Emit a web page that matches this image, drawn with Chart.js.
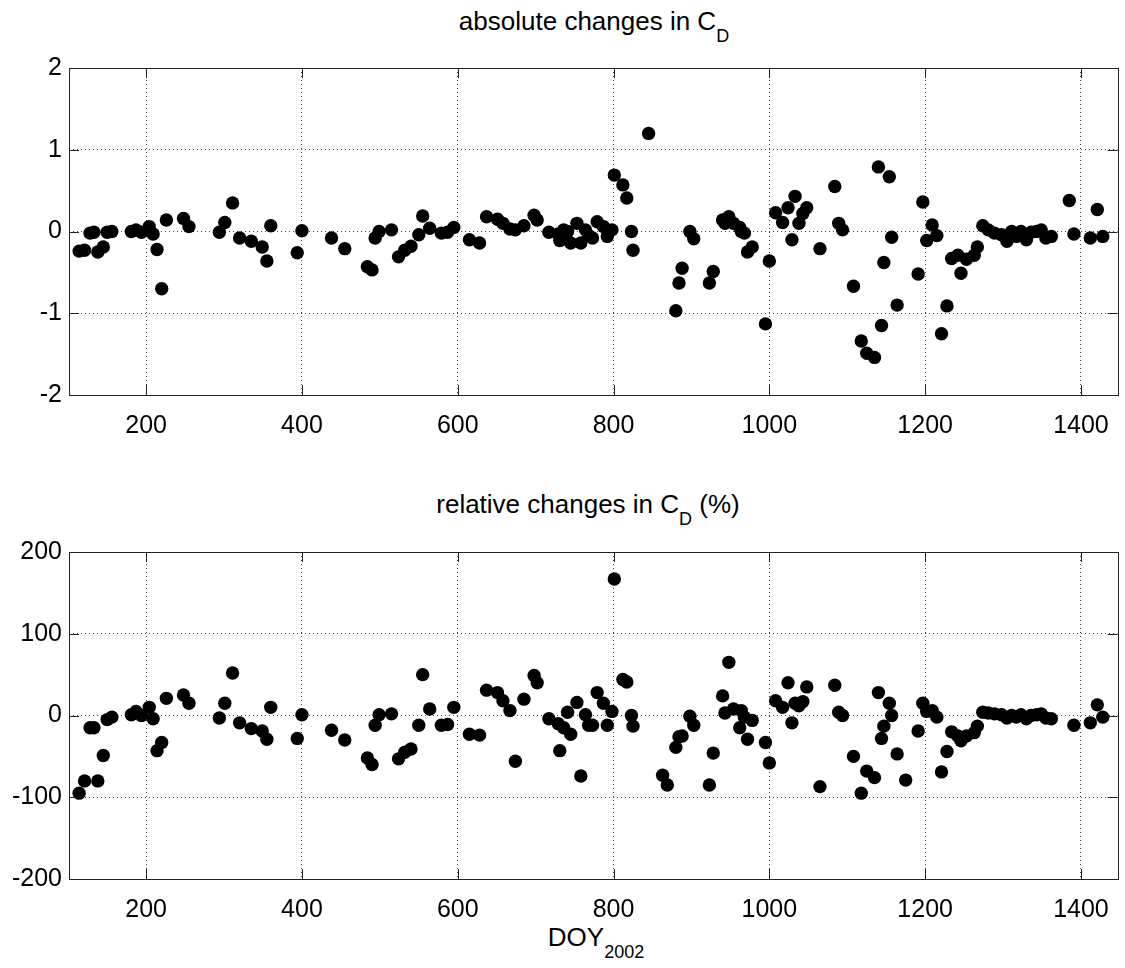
<!DOCTYPE html>
<html>
<head>
<meta charset="utf-8">
<script src="https://cdn.jsdelivr.net/npm/chart.js@4.4.0/dist/chart.umd.min.js"></script>
<style>
body{margin:0;background:#fff;width:1125px;height:968px;position:relative;overflow:hidden;font-family:"Liberation Sans",Arial,sans-serif;}
canvas{position:absolute;left:0;}
.txt{position:absolute;white-space:nowrap;transform:translateX(-50%);font-size:26px;line-height:26px;color:#000;}
.txt span{position:relative;font-size:18px;top:12px;}
</style>
</head>
<body>
<div class="txt" style="left:594px;top:8px;">absolute changes in C<span>D</span></div>
<div class="txt" style="left:588px;top:491px;">relative changes in C<span>D</span> (%)</div>
<div class="txt" style="left:596px;top:924px;">DOY<span>2002</span></div>
<canvas id="absChart" width="1125" height="484" style="top:0"></canvas>
<canvas id="relChart" width="1125" height="484" style="top:484px"></canvas>
<script>
// day of year (counted from 2002) for every sample
const doy = [114,121,128,133,138,145,150,156,181,187,194,204,209,214,220,226,248,255,294,301,
  311,320,335,349,355,360,394,400,438,455,484,490,494,499,515,524,532,540,550,555,
  564,579,587,595,615,628,637,651,658,667,674,685,698,702,717,729,731,736,741,745,
  753,758,764,768,773,779,787,792,798,801,812,817,823,825,845,863,869,880,884,888,
  898,903,923,928,940,943,948,954,962,964,968,972,978,995,1000,1008,1017,1024,1029,1033,
  1038,1043,1048,1065,1084,1089,1094,1108,1118,1125,1135,1140,1144,1147,1154,1157,1164,1175,1191,1197,
  1202,1209,1215,1221,1228,1234,1242,1246,1253,1263,1267,1274,1281,1289,1298,1305,1311,1317,1323,1330,
  1336,1343,1349,1355,1362,1385,1391,1412,1421,1428];

// absolute change in C_D (null = off the axis)
const absChange = [-0.24,-0.23,-0.02,-0.01,-0.25,-0.19,-0.01,0.00,0.00,0.02,-0.01,0.06,-0.03,-0.22,-0.70,0.14,0.16,0.06,-0.01,0.11,
  0.35,-0.08,-0.12,-0.19,-0.36,0.07,-0.26,0.01,-0.08,-0.21,-0.43,-0.47,-0.08,0.00,0.02,-0.31,-0.23,-0.18,-0.04,0.19,
  0.04,-0.02,-0.01,0.05,-0.10,-0.14,0.18,0.15,0.10,0.03,0.02,0.07,0.20,0.14,-0.01,-0.03,-0.11,0.02,0.00,-0.14,
  0.10,-0.14,0.02,-0.05,-0.08,0.12,0.06,-0.06,0.02,0.69,0.57,0.41,0.00,-0.23,1.20,null,null,-0.97,-0.63,-0.45,
  0.00,-0.09,-0.63,-0.49,0.14,0.10,0.18,0.10,0.05,0.00,-0.02,-0.25,-0.19,-1.13,-0.36,0.23,0.11,0.29,-0.10,0.43,
  0.10,0.22,0.29,-0.21,0.55,0.10,0.02,-0.67,-1.34,-1.49,-1.54,0.79,-1.15,-0.38,0.67,-0.07,-0.90,null,-0.52,0.36,
  -0.11,0.08,-0.05,-1.25,-0.91,-0.33,-0.29,-0.51,-0.34,-0.29,-0.19,0.07,0.02,-0.02,-0.04,-0.12,0.00,-0.06,0.00,-0.10,
  -0.01,0.00,0.02,-0.08,-0.06,0.38,-0.03,-0.08,0.27,-0.06];

// relative change in C_D, percent
const relChange = [-95,-80,-15,-15,-80,-49,-5,-2,1,5,0,10,-4,-43,-33,21,25,15,-3,15,
  52,-9,-16,-19,-29,10,-28,1,-18,-30,-52,-60,-12,1,2,-53,-45,-41,-12,50,
  8,-12,-11,10,-23,-24,31,28,18,6,-56,20,49,40,-4,-10,-43,-15,4,-23,
  16,-74,1,-12,-12,28,15,-12,5,167,44,41,0,-13,null,-73,-85,-39,-26,-25,
  -1,-12,-85,-46,24,3,65,8,-15,6,-2,-29,-6,-33,-58,18,10,40,-9,15,
  12,17,35,-87,37,4,0,-50,-95,-68,-76,28,-28,-13,15,0,-47,-79,-19,15,
  5,6,-2,-69,-44,-20,-25,-31,-25,-21,-13,4,3,2,1,-3,0,-2,1,-4,
  0,1,2,-3,-4,null,-12,-9,13,-2];

const xTicks = [200,400,600,800,1000,1200,1400];
const absTicks = [-2,-1,0,1,2];
const relTicks = [-200,-100,0,100,200];

const tickFont = {family:'"Liberation Sans", Arial, sans-serif', size:25};

// full box round the plot, ticks pointing inward on all sides
const boxPlugin = {
  id:'box',
  afterDraw(chart){
    const ctx = chart.ctx, a = chart.chartArea, x = chart.scales.x, y = chart.scales.y;
    const len = 10;
    ctx.save();
    ctx.strokeStyle = '#222';
    ctx.lineWidth = 1;
    ctx.strokeRect(Math.round(a.left)+0.5, Math.round(a.top)+0.5, Math.round(a.right-a.left), Math.round(a.bottom-a.top));
    ctx.beginPath();
    x.ticks.forEach(t => {
      const px = Math.round(x.getPixelForValue(t.value))+0.5;
      ctx.moveTo(px, a.bottom); ctx.lineTo(px, a.bottom-len);
      ctx.moveTo(px, a.top); ctx.lineTo(px, a.top+len);
    });
    y.ticks.forEach(t => {
      const py = Math.round(y.getPixelForValue(t.value))+0.5;
      ctx.moveTo(a.left, py); ctx.lineTo(a.left+len, py);
      ctx.moveTo(a.right, py); ctx.lineTo(a.right-len, py);
    });
    ctx.stroke();
    ctx.restore();
  }
};

function makeChart(id, values, yTicks){
  return new Chart(document.getElementById(id), {
    type:'scatter',
    data:{
      datasets:[{
        data: doy.map((d,i) => ({x:d, y:values[i]})),
        backgroundColor:'#000',
        borderColor:'#000',
        borderWidth:0,
        pointRadius:6.7,
        pointHoverRadius:6.7
      }]
    },
    options:{
      responsive:false,
      animation:false,
      layout:{padding:{top:68, right:2, left:0, bottom:0}},
      plugins:{legend:{display:false}, tooltip:{enabled:false}},
      scales:{
        x:{
          type:'linear', min:101, max:1447,
          afterBuildTicks: s => { s.ticks = xTicks.map(v => ({value:v})); },
          afterFit: s => { s.height = 89; },
          ticks:{font:tickFont, color:'#000', padding:16, maxRotation:0, callback: v => String(v)},
          grid:{color:'#444', drawTicks:false},
          border:{display:false, dash:[1,3]}
        },
        y:{
          min:yTicks[0], max:yTicks[yTicks.length-1],
          afterBuildTicks: s => { s.ticks = yTicks.map(v => ({value:v})); },
          afterFit: s => { s.width = 69; },
          ticks:{font:tickFont, color:'#000', padding:7, callback: v => String(v)},
          grid:{color:'#444', drawTicks:false},
          border:{display:false, dash:[1,3]}
        }
      }
    },
    plugins:[boxPlugin]
  });
}

makeChart('absChart', absChange, absTicks);
makeChart('relChart', relChange, relTicks);
</script>
</body>
</html>
